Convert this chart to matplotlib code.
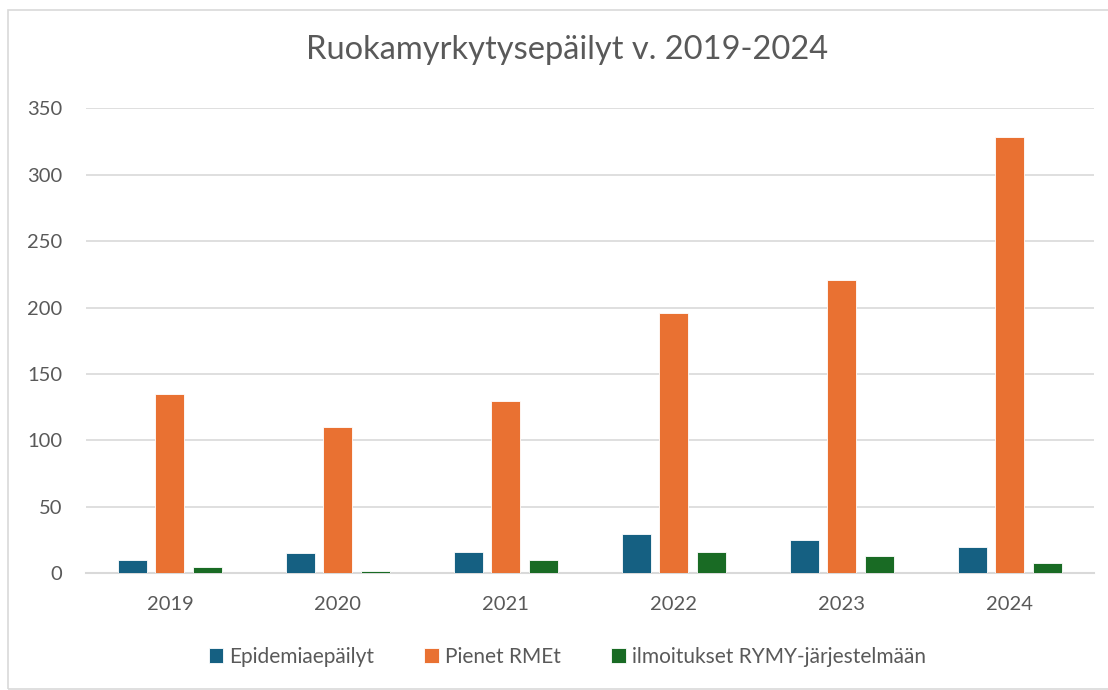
import numpy as np
import matplotlib
matplotlib.use("Agg")
import matplotlib.pyplot as plt
from matplotlib.patches import Rectangle

# Data
years = ["2019", "2020", "2021", "2022", "2023", "2024"]
epidemia = [10, 15, 16, 30, 25, 20]
pienet_rmet = [135, 110, 130, 196, 221, 328]
rymy = [5, 2, 10, 16, 13, 8]

series_names = ["Epidemiaepäilyt", "Pienet RMEt", "ilmoitukset RYMY-järjestelmään"]
colors = ["#156082", "#E97132", "#196B24"]

plt.rcParams["font.family"] = ["Lato", "DejaVu Sans"]
text_color = "#595959"

fig = plt.figure(figsize=(11.08, 6.9), dpi=100)
ax = fig.add_axes([0.0776, 0.169, 0.9094, 0.6743])

x = np.arange(len(years))
width = 0.173
step = 0.223

for i, (vals, name) in enumerate(zip([epidemia, pienet_rmet, rymy], series_names)):
    ax.bar(x + (i - 1) * step, vals, width, color=colors[i], label=name,
           edgecolor="white", linewidth=0.6, zorder=3)

ax.set_xlim(-0.5, len(years) - 0.5)
ax.set_ylim(0, 350)
ax.set_yticks(np.arange(0, 351, 50))
ax.set_xticks(x)
ax.set_xticklabels(years)

ax.grid(axis="y", color="#d9d9d9", linewidth=1.2, zorder=0)
for side in ["top", "right", "left"]:
    ax.spines[side].set_visible(False)
ax.spines["bottom"].set_color("#d9d9d9")
ax.spines["bottom"].set_linewidth(1.5)
ax.spines["bottom"].set_zorder(1)

ax.tick_params(axis="both", length=0, labelsize=14.5, labelcolor=text_color)
ax.tick_params(axis="x", pad=16)
ax.tick_params(axis="y", pad=17)

fig.text(0.512, 0.9275, "Ruokamyrkytysepäilyt v. 2019-2024", ha="center", va="center",
         fontsize=23.5, color=text_color)

fig.legend(loc="center", bbox_to_anchor=(0.512, 0.048), ncol=3, frameon=False,
           fontsize=15, labelcolor=text_color, handlelength=0.7, handleheight=0.7,
           handletextpad=0.3, columnspacing=2.4)

# outer chart border
fig.patches.append(Rectangle((8 / 1108, 0.002), 1.1, 1 - 10 / 690 - 0.002,
                             transform=fig.transFigure, fill=False,
                             edgecolor="#d9d9d9", linewidth=1.2))

fig.savefig("out.png", dpi=100)
plt.close()
